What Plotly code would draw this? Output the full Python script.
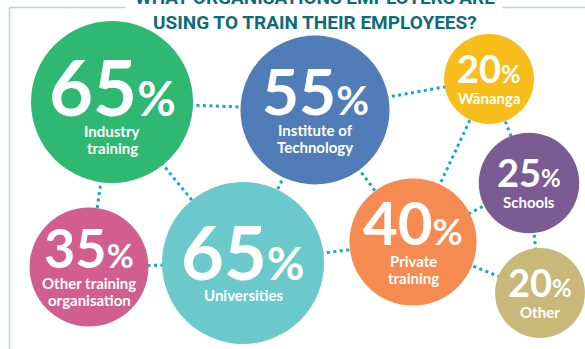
import math
import plotly.graph_objects as go

# ---- data ----
categories = ["Industry training", "Institute of Technology", "Wānanga", "Schools",
              "Other training organisation", "Universities", "Private training", "Other"]
values = [65, 55, 20, 25, 35, 65, 40, 20]
label_lines = [["Industry", "training"], ["Institute of", "Technology"], ["Wānanga"], ["Schools"],
               ["Other training", "organisation"], ["Universities"], ["Private", "training"], ["Other"]]
title_lines = ["WHAT ORGANISATIONS EMPLOYERS ARE", "USING TO TRAIN THEIR EMPLOYEES?"]

# ---- layout / style (not data) ----
centers_x = [112, 315, 489, 529, 89, 243, 413, 540]
centers_y = [102, 110, 79, 183, 267, 263, 242, 293]
text_shift = [5, 0, 0, 0, 0, 0, 0, 0]
colors = ["#2fb872", "#507db7", "#f6bd1b", "#7b5c92", "#d15e8c", "#6bc9cb", "#f68b51", "#c8b97b"]
digit_font = [76, 64, 38, 38, 54, 74, 60, 38]
edges = [(0, 1), (0, 4), (0, 5), (1, 5), (1, 6), (1, 2), (2, 6), (2, 3),
         (3, 6), (3, 7), (6, 7), (5, 6), (4, 5)]
RADIUS_SCALE = 10.05  # px per sqrt(percent)

W, H = 585, 349
FONT = "Lato, 'Open Sans', sans-serif"
DOT = "#19a8c2"

fig = go.Figure()

# connectors
for a, b in edges:
    fig.add_trace(go.Scatter(
        x=[centers_x[a], centers_x[b]], y=[centers_y[a], centers_y[b]],
        mode="lines", line=dict(color=DOT, width=3, dash="3px,3.5px"),
        hoverinfo="skip", showlegend=False))

# bubbles (area proportional to value)
diam = [2 * RADIUS_SCALE * math.sqrt(v) for v in values]
fig.add_trace(go.Scatter(
    x=centers_x, y=centers_y, mode="markers",
    marker=dict(size=diam, color=colors, opacity=1, line=dict(width=0)),
    text=categories, hoverinfo="text", showlegend=False))

annotations = []
LABEL_FS = 15
for i, v in enumerate(values):
    fs = digit_font[i]
    cap = 0.72 * fs
    n = len(label_lines[i])
    block = cap + 10 + (n - 1) * 17 + 11
    top = centers_y[i] + text_shift[i] - block / 2 + 1
    base = top + cap
    annotations.append(dict(
        x=centers_x[i], y=base - 0.39 * fs, xref="x", yref="y",
        text=f"<b>{v}<span style='font-size:{round(fs*0.62)}px'>%</span></b>",
        showarrow=False, xanchor="center", yanchor="middle",
        font=dict(family=FONT, size=fs, color="white")))
    for j, ln in enumerate(label_lines[i]):
        capmid = base + 10 + j * 17 + 5.5
        annotations.append(dict(
            x=centers_x[i], y=capmid - 0.03 * LABEL_FS, xref="x", yref="y",
            text=f"<b>{ln}</b>", showarrow=False, xanchor="center", yanchor="middle",
            font=dict(family=FONT, size=LABEL_FS, color="white")))

# title (first line is cut off by the top edge, as in the original)
TFS = 19
for k, t in enumerate(title_lines):
    annotations.append(dict(
        x=315, y=[7, 32][k] + 0.22 * TFS, xref="x", yref="y",
        text=f"<b>{t}</b>", showarrow=False, xanchor="center", yanchor="bottom",
        font=dict(family="Roboto, sans-serif", size=TFS, color="#0e6b77")))

frame = "#a9dcd8"
shapes = [
    dict(type="line", x0=9.5, x1=9.5, y0=7.5, y1=H, xref="x", yref="y", line=dict(color=frame, width=1.5)),
    dict(type="line", x0=9.5, x1=125, y0=7.5, y1=7.5, xref="x", yref="y", line=dict(color=frame, width=1.5)),
    dict(type="line", x0=503, x1=W, y0=7.5, y1=7.5, xref="x", yref="y", line=dict(color=frame, width=1.5)),
]

fig.update_layout(
    width=W, height=H, margin=dict(l=0, r=0, t=0, b=0),
    paper_bgcolor="white", plot_bgcolor="white",
    xaxis=dict(range=[0, W], visible=False, fixedrange=True),
    yaxis=dict(range=[H, 0], visible=False, fixedrange=True),
    annotations=annotations, shapes=shapes, showlegend=False)

fig.write_html("out.html", config={"displayModeBar": False},
               post_script="document.body.style.margin='0';document.body.style.overflow='hidden';")
